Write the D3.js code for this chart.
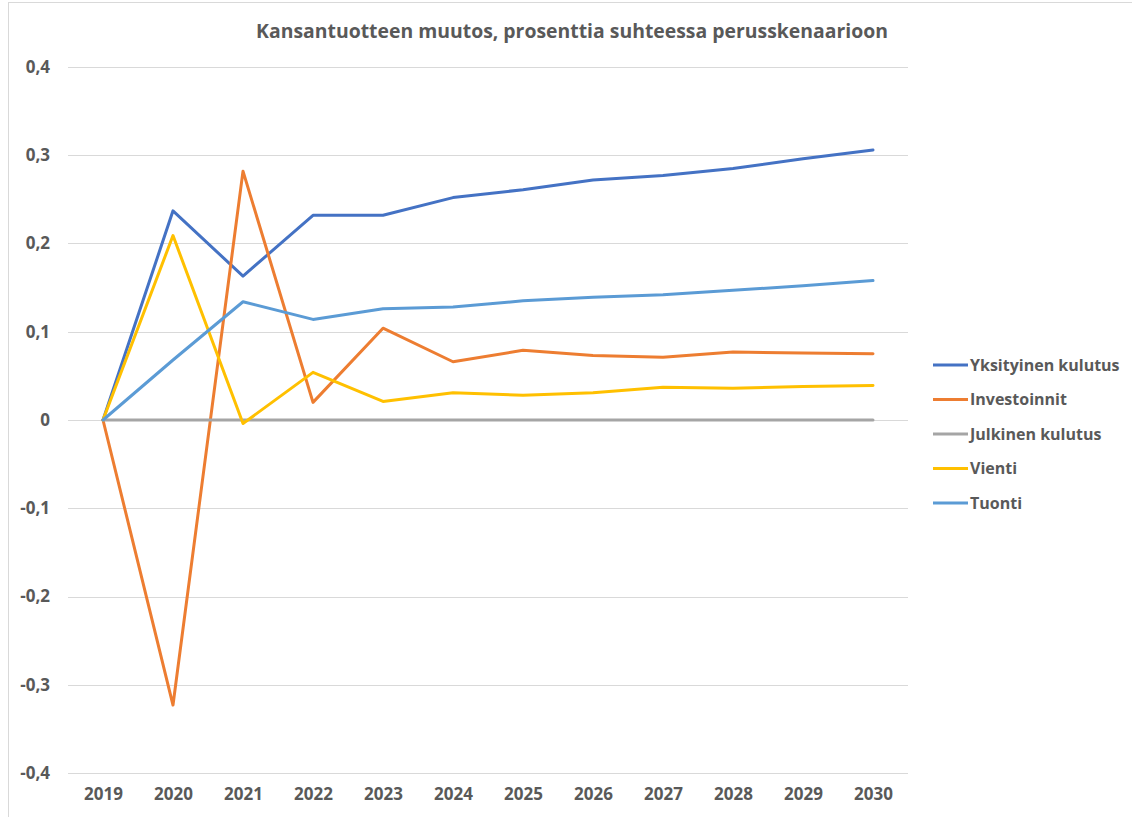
<!DOCTYPE html>
<head>
  <meta charset="utf-8">
  <script src="https://d3js.org/d3.v7.min.js"></script>
  <style>
body {
	margin:0;
	background:#fff;
	}
.lbl {
	font-family: "Open Sans", sans-serif;
	font-weight: bold;
	fill: #595959;
	}
  </style>
</head>

<body>
  <div id="graph"></div>
<script>
// Data
var years = ["2019","2020","2021","2022","2023","2024","2025","2026","2027","2028","2029","2030"];
var yksityinen = [0, 0.237, 0.163, 0.232, 0.232, 0.252, 0.261, 0.272, 0.277, 0.285, 0.296, 0.306];
var investoinnit = [0, -0.323, 0.282, 0.020, 0.104, 0.066, 0.079, 0.073, 0.071, 0.077, 0.076, 0.075];
var julkinen = [0, 0, 0, 0, 0, 0, 0, 0, 0, 0, 0, 0];
var vienti = [0, 0.209, -0.004, 0.054, 0.021, 0.031, 0.028, 0.031, 0.037, 0.036, 0.038, 0.039];
var tuonti = [0, 0.068, 0.134, 0.114, 0.126, 0.128, 0.135, 0.139, 0.142, 0.147, 0.152, 0.158];
var yTicks = [-0.4, -0.3, -0.2, -0.1, 0, 0.1, 0.2, 0.3, 0.4];
var title = "Kansantuotteen muutos, prosenttia suhteessa perusskenaarioon";

var series = [
  {name: "Yksityinen kulutus", values: yksityinen, color: "#4472C4"},
  {name: "Investoinnit", values: investoinnit, color: "#ED7D31"},
  {name: "Julkinen kulutus", values: julkinen, color: "#A5A5A5"},
  {name: "Vienti", values: vienti, color: "#FFC000"},
  {name: "Tuonti", values: tuonti, color: "#5B9BD5"}
];

var W = 1132, H = 817;
var plot = {left: 68, right: 908, top: 67, bottom: 773};

var svg = d3.select("#graph").append("svg")
    .attr("width", W)
    .attr("height", H);

// chart border
svg.append("rect")
    .attr("x", 8.5).attr("y", 2.5)
    .attr("width", 1200).attr("height", 900)
    .attr("fill", "none")
    .attr("stroke", "#D9D9D9");

var x = d3.scalePoint().domain(years).range([plot.left, plot.right]).padding(0.5);
var y = d3.scaleLinear().domain([-0.4, 0.4]).range([plot.bottom, plot.top]);

var loc = d3.formatLocale({decimal: ",", thousands: " ", grouping: [3], currency: ["", "€"], minus: "-"});
var fmt = function(v) { return Math.abs(v) < 1e-9 ? "0" : loc.format(".1f")(v); };

// gridlines
svg.append("g")
  .selectAll("line")
  .data(yTicks)
  .enter().append("line")
    .attr("x1", plot.left).attr("x2", plot.right)
    .attr("y1", function(d) { return Math.round(y(d)) + 0.5; })
    .attr("y2", function(d) { return Math.round(y(d)) + 0.5; })
    .attr("stroke", "#D9D9D9")
    .attr("stroke-width", 1);

// y axis labels
var yaxis = svg.append("g")
    .attr("transform", "translate(" + 50 + ",0)")
    .call(d3.axisLeft(y).tickValues(yTicks).tickFormat(fmt).tickSize(0).tickPadding(0));
yaxis.select(".domain").remove();
yaxis.attr("font-family", null).attr("font-size", null);
yaxis.selectAll("text")
    .attr("class", "lbl")
    .style("font-size", "17px");

// x axis labels
var xaxis = svg.append("g")
    .attr("transform", "translate(0," + 788 + ")")
    .call(d3.axisBottom(x).tickSize(0).tickPadding(0));
xaxis.select(".domain").remove();
xaxis.attr("font-family", null).attr("font-size", null);
xaxis.selectAll("text")
    .attr("class", "lbl")
    .attr("dy", "0.71em")
    .style("font-size", "17px");

// lines
var line = d3.line()
    .x(function(d, i) { return x(years[i]); })
    .y(function(d) { return y(d); });

series.forEach(function(s) {
  svg.append("path")
      .datum(s.values)
      .attr("fill", "none")
      .attr("stroke", s.color)
      .attr("stroke-width", 3)
      .attr("stroke-linejoin", "round")
      .attr("stroke-linecap", "round")
      .attr("d", line);
});

// title
svg.append("text")
    .attr("class", "lbl")
    .attr("x", 572)
    .attr("y", 38)
    .attr("text-anchor", "middle")
    .style("font-size", "19.4px")
    .text(title);

// legend
var legend = svg.append("g");
series.forEach(function(s, i) {
  var ly = 365 + i * 34.5;
  legend.append("line")
      .attr("x1", 933).attr("x2", 968)
      .attr("y1", ly).attr("y2", ly)
      .attr("stroke", s.color)
      .attr("stroke-width", 3);
  legend.append("text")
      .attr("class", "lbl")
      .attr("x", 970)
      .attr("y", ly)
      .attr("dy", "0.35em")
      .style("font-size", "16px")
      .text(s.name);
});
</script>
</body>
